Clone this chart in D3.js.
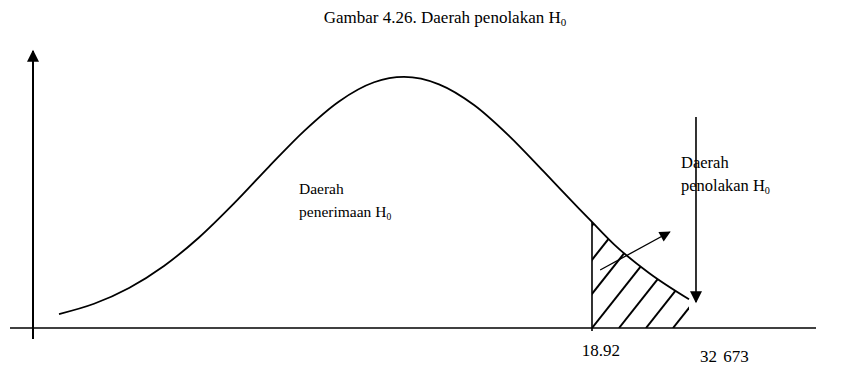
<!DOCTYPE html>
<html>
<head>
<meta charset="utf-8">
<script src="https://cdn.jsdelivr.net/npm/d3@7"></script>
<style>
  body { margin: 0; background: #fff; }
  svg { display: block; font-family: "Liberation Serif", "Times New Roman", serif; }
</style>
</head>
<body>
<svg id="chart" width="853" height="382"></svg>
<script>
// Sketch of the test statistic distribution
const curveStat = [-51.56, -46.93, -42.30, -37.68, -33.05, -28.42, -23.79, -19.16, -14.53, -9.90,
                   -5.94, -1.31, 3.32, 7.95, 12.58, 17.20, 18.92, 21.83, 26.46, 31.75];
const curveDensity = [0.00117, 0.00203, 0.00335, 0.00519, 0.00757, 0.01042, 0.01350, 0.01647, 0.01895, 0.02055,
                      0.02100, 0.02038, 0.01865, 0.01607, 0.01305, 0.00999, 0.00887, 0.00700, 0.00460, 0.00240];

// Marked values on the horizontal axis
const tickValues = [18.92, 32.673];
const tickLabels = ["18.92", "32 673"];
const computedValue = 18.92;
const criticalValue = 32.673;

const titleText = "Gambar 4.26. Daerah penolakan H";
const acceptLabel = ["Daerah", "penerimaan H"];
const rejectLabel = ["Daerah", "penolakan H"];

const svg = d3.select("#chart");

const x = d3.scaleLinear().domain([-55, 48]).range([33, 811.9]);
const y = d3.scaleLinear().domain([0, 0.0235]).range([328, 47]);

const pts = curveStat.map((s, i) => ({ s, d: curveDensity[i] }));

// arrow markers
const defs = svg.append("defs");
defs.append("marker").attr("id", "headUp")
  .attr("viewBox", "0 0 10 10").attr("refX", 9).attr("refY", 5)
  .attr("markerWidth", 13).attr("markerHeight", 11).attr("markerUnits", "userSpaceOnUse")
  .attr("orient", "auto")
  .append("path").attr("d", "M0,0 L10,5 L0,10 Z").attr("fill", "#000");
defs.append("marker").attr("id", "headBig")
  .attr("viewBox", "0 0 10 10").attr("refX", 9).attr("refY", 5)
  .attr("markerWidth", 17).attr("markerHeight", 12).attr("markerUnits", "userSpaceOnUse")
  .attr("orient", "auto")
  .append("path").attr("d", "M0,0 L10,5 L0,10 Z").attr("fill", "#000");

// title
const title = svg.append("text")
  .attr("x", 445).attr("y", 23)
  .attr("text-anchor", "middle")
  .attr("font-size", 17)
  .text(titleText);
title.append("tspan").attr("font-size", 11).attr("dy", 3).text("0");

// axes
svg.append("line")
  .attr("x1", 10).attr("x2", 816)
  .attr("y1", y(0)).attr("y2", y(0))
  .attr("stroke", "#000").attr("stroke-width", 1.6);
svg.append("line")
  .attr("x1", x(-55)).attr("x2", x(-55))
  .attr("y1", y(0) + 11).attr("y2", 51)
  .attr("stroke", "#000").attr("stroke-width", 2)
  .attr("marker-end", "url(#headBig)");

// hatched rejection region under the curve, right of the computed value
const tail = pts.filter(p => p.s >= computedValue);
const area = d3.area().x(p => x(p.s)).y0(y(0)).y1(p => y(p.d)).curve(d3.curveMonotoneX);
defs.append("clipPath").attr("id", "tailClip")
  .append("path").attr("d", area(tail));
const hatch = svg.append("g").attr("clip-path", "url(#tailClip)");
const x0 = x(computedValue), x1 = x(tail[tail.length - 1].s);
for (let bx = x0 - 108; bx < x1 + 20; bx += 27) {
  hatch.append("line")
    .attr("x1", bx).attr("y1", y(0))
    .attr("x2", bx + 95).attr("y2", y(0) - 120)
    .attr("stroke", "#000").attr("stroke-width", 2);
}
svg.append("line")
  .attr("x1", x(computedValue)).attr("x2", x(computedValue))
  .attr("y1", y(0) + 3).attr("y2", y(curveDensity[curveStat.indexOf(computedValue)]))
  .attr("stroke", "#000").attr("stroke-width", 1.6);

// curve
const line = d3.line().x(p => x(p.s)).y(p => y(p.d)).curve(d3.curveMonotoneX);
svg.append("path").attr("d", line(pts))
  .attr("fill", "none").attr("stroke", "#000").attr("stroke-width", 1.8);

// pointer from the region to its label
svg.append("line")
  .attr("x1", x(20.0)).attr("y1", 270)
  .attr("x2", x(29.2)).attr("y2", 232)
  .attr("stroke", "#000").attr("stroke-width", 1.3)
  .attr("marker-end", "url(#headUp)");

// downward arrow at the critical value
svg.append("line")
  .attr("x1", x(criticalValue)).attr("x2", x(criticalValue))
  .attr("y1", 117).attr("y2", 302)
  .attr("stroke", "#000").attr("stroke-width", 1.6)
  .attr("marker-end", "url(#headBig)");

// region labels
function twoLine(lines, px, py, size) {
  const t = svg.append("text").attr("font-size", size);
  t.append("tspan").attr("x", px).attr("y", py).text(lines[0]);
  t.append("tspan").attr("x", px).attr("y", py + 23).text(lines[1]);
  t.append("tspan").attr("font-size", size * 0.62).attr("dy", 3).text("0");
}
twoLine(acceptLabel, 299, 194, 15.5);
twoLine(rejectLabel, 681, 168, 16.5);

// tick labels
svg.selectAll("text.tick").data(tickValues).enter().append("text")
  .attr("class", "tick")
  .attr("x", (v, i) => i === 0 ? x(v) + 9 : x(v) + 4)
  .attr("y", (v, i) => i === 0 ? 356 : 362)
  .attr("text-anchor", (v, i) => i === 0 ? "middle" : "start")
  .attr("font-size", 17)
  .attr("word-spacing", (v, i) => i === 1 ? 2 : 0)
  .text((v, i) => tickLabels[i]);
</script>
</body>
</html>
